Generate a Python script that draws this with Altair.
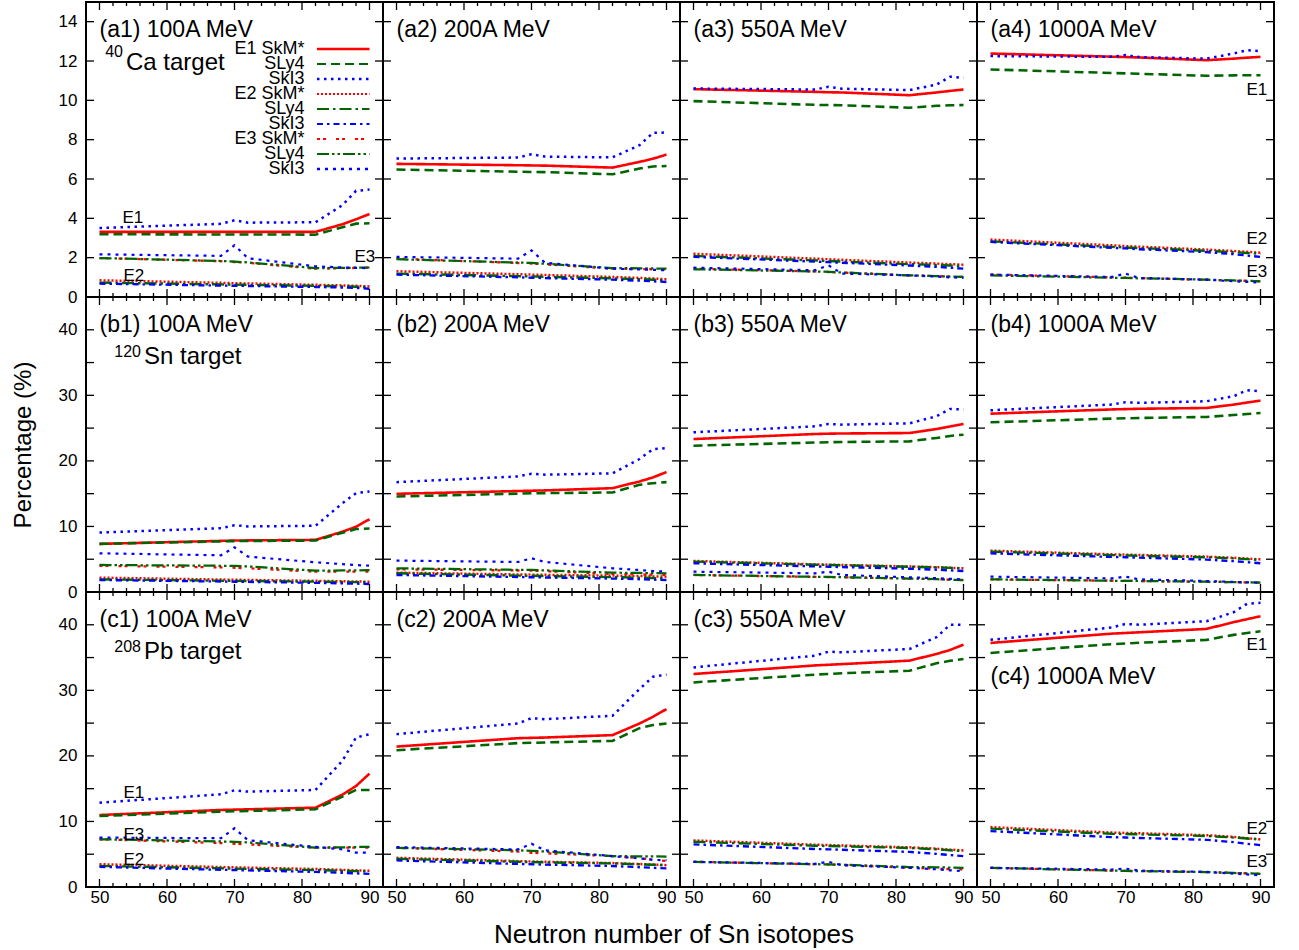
import altair as alt
import pandas as pd

FONT = "Liberation Sans"

# Neutron numbers at which the percentages are tabulated
N = [50, 68, 70, 72, 82, 86, 88, 90]

SERIES = ["E1 SkM*", "E1 SLy4", "E1 SkI3",
          "E2 SkM*", "E2 SLy4", "E2 SkI3",
          "E3 SkM*", "E3 SLy4", "E3 SkI3"]
LEGEND_TEXT = ["E1 SkM*", "SLy4", "SkI3", "E2 SkM*", "SLy4", "SkI3", "E3 SkM*", "SLy4", "SkI3"]

COLORS = ["#ff0000", "#006400", "#0000ff"] * 3
DASHES = [[1, 0], [9, 5], [2.5, 4.5],
          [2, 2], [12, 4, 2.5, 4], [6, 4, 2.5, 4],
          [3, 3, 3, 10], [12, 3, 2.5, 3, 2.5, 3], [3, 5]]
WIDTHS = [2.6, 2.2, 2.4, 2, 2, 2, 2, 2, 2.4]

# ---- 40Ca target ----
a1 = {
    "E1 SkM*": [3.31, 3.31, 3.31, 3.31, 3.31, 3.70, 3.95, 4.22],
    "E1 SLy4": [3.19, 3.18, 3.18, 3.18, 3.17, 3.55, 3.73, 3.75],
    "E1 SkI3": [3.51, 3.72, 3.90, 3.78, 3.80, 4.67, 5.40, 5.46],
    "E2 SkM*": [0.85, 0.72, 0.70, 0.69, 0.62, 0.59, 0.57, 0.54],
    "E2 SLy4": [0.73, 0.64, 0.63, 0.62, 0.57, 0.54, 0.52, 0.51],
    "E2 SkI3": [0.68, 0.58, 0.57, 0.56, 0.51, 0.48, 0.46, 0.42],
    "E3 SkM*": [1.98, 1.82, 1.78, 1.74, 1.44, 1.46, 1.48, 1.49],
    "E3 SLy4": [1.98, 1.83, 1.80, 1.76, 1.47, 1.48, 1.49, 1.50],
    "E3 SkI3": [2.17, 2.09, 2.63, 1.97, 1.56, 1.50, 1.48, 1.47],
}
a2 = {
    "E1 SkM*": [6.77, 6.70, 6.69, 6.68, 6.58, 6.87, 7.03, 7.24],
    "E1 SLy4": [6.48, 6.37, 6.36, 6.35, 6.24, 6.53, 6.64, 6.66],
    "E1 SkI3": [7.04, 7.09, 7.26, 7.14, 7.10, 7.72, 8.35, 8.36],
    "E2 SkM*": [1.31, 1.16, 1.14, 1.12, 1.02, 0.97, 0.94, 0.90],
    "E2 SLy4": [1.19, 1.06, 1.05, 1.03, 0.95, 0.91, 0.88, 0.85],
    "E2 SkI3": [1.14, 1.00, 0.98, 0.96, 0.88, 0.83, 0.80, 0.76],
    "E3 SkM*": [1.95, 1.73, 1.70, 1.66, 1.44, 1.42, 1.41, 1.40],
    "E3 SLy4": [1.92, 1.75, 1.73, 1.69, 1.47, 1.46, 1.45, 1.44],
    "E3 SkI3": [2.04, 1.95, 2.37, 1.74, 1.44, 1.40, 1.38, 1.36],
}
a3 = {
    "E1 SkM*": [10.57, 10.43, 10.41, 10.40, 10.26, 10.40, 10.48, 10.55],
    "E1 SLy4": [9.96, 9.77, 9.76, 9.75, 9.62, 9.72, 9.75, 9.76],
    "E1 SkI3": [10.60, 10.55, 10.69, 10.59, 10.52, 10.80, 11.20, 11.15],
    "E2 SkM*": [2.20, 1.95, 1.92, 1.89, 1.75, 1.70, 1.67, 1.64],
    "E2 SLy4": [2.09, 1.86, 1.83, 1.80, 1.67, 1.63, 1.60, 1.58],
    "E2 SkI3": [2.04, 1.80, 1.77, 1.74, 1.60, 1.53, 1.49, 1.44],
    "E3 SkM*": [1.44, 1.30, 1.27, 1.24, 1.10, 1.06, 1.04, 1.02],
    "E3 SLy4": [1.41, 1.30, 1.28, 1.25, 1.10, 1.06, 1.04, 1.02],
    "E3 SkI3": [1.49, 1.36, 1.61, 1.19, 1.10, 1.04, 1.00, 0.97],
}
a4 = {
    "E1 SkM*": [12.38, 12.22, 12.20, 12.18, 12.04, 12.12, 12.17, 12.21],
    "E1 SLy4": [11.57, 11.39, 11.37, 11.35, 11.25, 11.27, 11.28, 11.28],
    "E1 SkI3": [12.25, 12.21, 12.30, 12.20, 12.12, 12.38, 12.55, 12.50],
    "E2 SkM*": [2.92, 2.63, 2.59, 2.56, 2.41, 2.34, 2.30, 2.25],
    "E2 SLy4": [2.83, 2.55, 2.52, 2.49, 2.35, 2.28, 2.24, 2.20],
    "E2 SkI3": [2.80, 2.50, 2.47, 2.43, 2.28, 2.18, 2.11, 2.04],
    "E3 SkM*": [1.14, 1.00, 0.98, 0.96, 0.88, 0.84, 0.82, 0.80],
    "E3 SLy4": [1.10, 0.98, 0.97, 0.95, 0.88, 0.84, 0.82, 0.80],
    "E3 SkI3": [1.14, 1.02, 1.19, 0.97, 0.88, 0.80, 0.77, 0.73],
}

# ---- 120Sn target ----
b1 = {
    "E1 SkM*": [7.34, 7.80, 7.85, 7.87, 7.95, 9.20, 9.95, 11.10],
    "E1 SLy4": [7.34, 7.72, 7.76, 7.78, 7.85, 9.05, 9.60, 9.70],
    "E1 SkI3": [9.07, 9.73, 10.19, 10.00, 10.10, 13.55, 15.08, 15.33],
    "E2 SkM*": [2.19, 1.90, 1.87, 1.84, 1.71, 1.64, 1.60, 1.57],
    "E2 SLy4": [1.93, 1.72, 1.70, 1.68, 1.58, 1.52, 1.50, 1.47],
    "E2 SkI3": [1.83, 1.60, 1.57, 1.54, 1.40, 1.32, 1.27, 1.22],
    "E3 SkM*": [4.00, 3.75, 3.70, 3.62, 3.10, 3.10, 3.10, 3.10],
    "E3 SLy4": [4.12, 4.00, 3.97, 3.90, 3.26, 3.28, 3.30, 3.33],
    "E3 SkI3": [5.90, 5.60, 6.82, 5.40, 4.53, 4.25, 4.10, 4.02],
}
b2 = {
    "E1 SkM*": [14.98, 15.40, 15.45, 15.50, 15.84, 16.86, 17.48, 18.30],
    "E1 SLy4": [14.57, 15.00, 15.05, 15.08, 15.18, 16.36, 16.60, 16.76],
    "E1 SkI3": [16.76, 17.63, 18.04, 17.89, 18.10, 20.28, 21.80, 21.95],
    "E2 SkM*": [2.95, 2.68, 2.65, 2.62, 2.50, 2.43, 2.38, 2.34],
    "E2 SLy4": [2.85, 2.50, 2.47, 2.43, 2.27, 2.18, 2.13, 2.08],
    "E2 SkI3": [2.60, 2.28, 2.25, 2.21, 2.05, 1.95, 1.89, 1.83],
    "E3 SkM*": [3.46, 3.28, 3.26, 3.18, 2.75, 2.68, 2.64, 2.60],
    "E3 SLy4": [3.61, 3.38, 3.36, 3.30, 2.95, 2.90, 2.88, 2.85],
    "E3 SkI3": [4.79, 4.58, 5.14, 4.58, 3.61, 3.35, 3.20, 3.10],
}
b3 = {
    "E1 SkM*": [23.33, 24.10, 24.15, 24.18, 24.25, 24.86, 25.25, 25.63],
    "E1 SLy4": [22.32, 22.80, 22.85, 22.88, 22.98, 23.50, 23.80, 24.00],
    "E1 SkI3": [24.36, 25.27, 25.63, 25.53, 25.73, 26.80, 27.93, 27.83],
    "E2 SkM*": [4.74, 4.22, 4.17, 4.12, 3.90, 3.78, 3.70, 3.61],
    "E2 SLy4": [4.64, 4.16, 4.12, 4.07, 3.85, 3.76, 3.68, 3.61],
    "E2 SkI3": [4.38, 3.90, 3.85, 3.80, 3.55, 3.40, 3.30, 3.20],
    "E3 SkM*": [2.60, 2.30, 2.27, 2.24, 2.05, 1.95, 1.88, 1.83],
    "E3 SLy4": [2.60, 2.32, 2.29, 2.26, 2.05, 1.95, 1.88, 1.83],
    "E3 SkI3": [3.10, 2.85, 3.10, 2.60, 2.24, 2.10, 2.00, 1.93],
}
b4 = {
    "E1 SkM*": [27.20, 27.85, 27.90, 27.95, 28.07, 28.58, 28.90, 29.20],
    "E1 SLy4": [25.89, 26.45, 26.50, 26.55, 26.70, 27.00, 27.15, 27.30],
    "E1 SkI3": [27.72, 28.60, 28.95, 28.85, 29.10, 29.86, 30.78, 30.60],
    "E2 SkM*": [6.31, 5.75, 5.70, 5.65, 5.40, 5.22, 5.10, 4.98],
    "E2 SLy4": [6.16, 5.63, 5.58, 5.53, 5.30, 5.13, 5.01, 4.89],
    "E2 SkI3": [5.90, 5.35, 5.30, 5.24, 4.95, 4.70, 4.55, 4.38],
    "E3 SkM*": [1.93, 1.72, 1.70, 1.68, 1.57, 1.50, 1.46, 1.42],
    "E3 SLy4": [1.93, 1.72, 1.70, 1.68, 1.57, 1.50, 1.46, 1.42],
    "E3 SkI3": [2.34, 2.08, 2.34, 1.93, 1.68, 1.55, 1.48, 1.42],
}

# ---- 208Pb target ----
c1 = {
    "E1 SkM*": [10.98, 11.75, 11.80, 11.85, 12.10, 14.10, 15.40, 17.30],
    "E1 SLy4": [10.83, 11.50, 11.55, 11.60, 11.85, 13.80, 14.80, 14.80],
    "E1 SkI3": [12.86, 14.14, 14.75, 14.55, 14.80, 19.27, 22.80, 23.30],
    "E2 SkM*": [3.48, 3.05, 3.00, 2.95, 2.75, 2.62, 2.55, 2.47],
    "E2 SLy4": [3.22, 2.85, 2.80, 2.76, 2.58, 2.48, 2.42, 2.37],
    "E2 SkI3": [3.07, 2.62, 2.58, 2.53, 2.30, 2.17, 2.08, 2.00],
    "E3 SkM*": [7.28, 6.70, 6.60, 6.50, 6.00, 6.00, 6.00, 6.00],
    "E3 SLy4": [7.28, 6.95, 6.90, 6.80, 6.00, 6.05, 6.10, 6.12],
    "E3 SkI3": [7.54, 7.44, 8.96, 7.13, 6.12, 5.75, 5.24, 5.24],
}
c2 = {
    "E1 SkM*": [21.42, 22.70, 22.75, 22.80, 23.17, 24.94, 25.96, 27.14],
    "E1 SLy4": [20.87, 21.95, 22.00, 22.05, 22.29, 24.23, 24.70, 24.94],
    "E1 SkI3": [23.32, 24.94, 25.76, 25.60, 26.12, 30.20, 32.08, 32.40],
    "E2 SkM*": [4.45, 3.95, 3.90, 3.85, 3.65, 3.50, 3.42, 3.33],
    "E2 SLy4": [4.30, 3.85, 3.80, 3.76, 3.60, 3.46, 3.40, 3.33],
    "E2 SkI3": [4.05, 3.52, 3.47, 3.42, 3.20, 3.02, 2.93, 2.83],
    "E3 SkM*": [5.98, 5.40, 5.22, 5.15, 4.71, 4.40, 4.15, 3.95],
    "E3 SLy4": [5.98, 5.60, 5.50, 5.42, 4.71, 4.68, 4.66, 4.64],
    "E3 SkI3": [6.08, 5.73, 6.59, 5.60, 4.71, 4.35, 4.15, 4.05],
}
c3 = {
    "E1 SkM*": [32.49, 33.80, 33.90, 34.00, 34.53, 35.55, 36.15, 36.97],
    "E1 SLy4": [31.21, 32.40, 32.50, 32.60, 33.00, 34.13, 34.50, 34.78],
    "E1 SkI3": [33.50, 35.29, 35.90, 35.80, 36.31, 38.10, 40.00, 40.00],
    "E2 SkM*": [7.11, 6.45, 6.40, 6.33, 6.05, 5.85, 5.70, 5.58],
    "E2 SLy4": [6.90, 6.30, 6.25, 6.20, 5.95, 5.75, 5.60, 5.48],
    "E2 SkI3": [6.50, 5.80, 5.75, 5.68, 5.35, 5.05, 4.88, 4.71],
    "E3 SkM*": [3.84, 3.48, 3.43, 3.38, 2.92, 2.80, 2.73, 2.67],
    "E3 SLy4": [3.84, 3.48, 3.45, 3.40, 3.05, 3.00, 2.96, 2.92],
    "E3 SkI3": [3.84, 3.53, 3.84, 3.33, 2.92, 2.70, 2.55, 2.41],
}
c4 = {
    "E1 SkM*": [37.23, 38.65, 38.75, 38.85, 39.37, 40.39, 40.85, 41.30],
    "E1 SLy4": [35.70, 37.05, 37.15, 37.25, 37.70, 38.46, 38.75, 39.00],
    "E1 SkI3": [37.70, 39.60, 40.13, 40.00, 40.54, 41.91, 43.20, 43.35],
    "E2 SkM*": [9.14, 8.30, 8.25, 8.20, 7.90, 7.65, 7.45, 7.26],
    "E2 SLy4": [8.90, 8.12, 8.08, 8.03, 7.78, 7.55, 7.40, 7.26],
    "E2 SkI3": [8.53, 7.60, 7.55, 7.48, 7.20, 6.85, 6.60, 6.39],
    "E3 SkM*": [2.92, 2.50, 2.46, 2.42, 2.28, 2.15, 2.08, 2.00],
    "E3 SLy4": [2.92, 2.50, 2.46, 2.42, 2.28, 2.15, 2.08, 2.00],
    "E3 SkI3": [2.92, 2.67, 2.80, 2.50, 2.30, 2.05, 1.92, 1.79],
}

# Axis ranges and tick positions
X_DOMAIN = [48, 92]
X_LABELS = [50, 60, 70, 80, 90]
X_MINOR = [52, 54, 56, 58, 62, 64, 66, 68, 72, 74, 76, 78, 82, 84, 86, 88]
Y_MAX_CA = 15
Y_MAX_HEAVY = 45
Y_TICKS_CA = [2, 4, 6, 8, 10, 12, 14]
Y_LABELS_CA = [0, 2, 4, 6, 8, 10, 12, 14]
Y_TICKS_HEAVY = [5, 10, 15, 20, 25, 30, 35, 40]
Y_LABELS_HEAVY = [0, 10, 20, 30, 40]

W, H = 297, 295
TICK = 8
MINOR = 4
TITLE_SIZE = 23
TARGET_SIZE = 24
SUP_SIZE = 16


def text(t, x, y, size=17, align="left", baseline="middle"):
    return alt.Chart(pd.DataFrame({"t": [t]})).mark_text(
        align=align, baseline=baseline, fontSize=size, font=FONT, color="black"
    ).encode(text="t:N", x=alt.value(x), y=alt.value(y))


def panel(values, ymax, yticks, ylabels, col, row, annotations):
    xs = alt.Scale(domain=X_DOMAIN, nice=False, zero=False)
    ys = alt.Scale(domain=[0, ymax], nice=False)

    if col == 0:
        yaxis_kw = dict(values=ylabels, format="d", labelFontSize=17, labelPadding=9,
                        ticks=False, domain=False, grid=False, title="")
        if row == 1:
            yaxis_kw.update(title="Percentage (%)", titleFontSize=24, titleX=-63,
                            titleY=H / 2, titleAngle=270, titleBaseline="middle",
                            titleAlign="center", titleFontWeight="normal")
        yaxis = alt.Axis(**yaxis_kw)
    else:
        yaxis = None

    if row == 2:
        xaxis_kw = dict(values=X_LABELS, format="d", labelFontSize=17, labelPadding=2,
                        ticks=False, domain=False, grid=False, title="")
        if col == 1:
            xaxis_kw.update(title="Neutron number of Sn isotopes", titleFontSize=26,
                            titleX=290.5, titleY=47, titleBaseline="middle",
                            titleAlign="center", titleFontWeight="normal")
        xaxis = alt.Axis(**xaxis_kw)
    else:
        xaxis = None

    df = pd.DataFrame(
        [{"N": n, "pct": v, "series": s} for s in SERIES for n, v in zip(N, values[s])]
    )
    lines = alt.Chart(df).mark_line(clip=True).encode(
        x=alt.X("N:Q", scale=xs, axis=xaxis),
        y=alt.Y("pct:Q", scale=ys, axis=yaxis),
        color=alt.Color("series:N", scale=alt.Scale(domain=SERIES, range=COLORS), legend=None),
        strokeDash=alt.StrokeDash("series:N", scale=alt.Scale(domain=SERIES, range=DASHES), legend=None),
        size=alt.Size("series:N", scale=alt.Scale(domain=SERIES, range=WIDTHS), legend=None),
        order=alt.Order("N:Q"),
    )

    # inward ticks on all four sides (same scales and axes as the curves)
    ydf = pd.DataFrame({"v": yticks})
    xdf = pd.DataFrame({"v": X_LABELS})
    xmdf = pd.DataFrame({"v": X_MINOR})
    yq = alt.Y("v:Q", scale=ys, axis=yaxis)
    xq = alt.X("v:Q", scale=xs, axis=xaxis)
    rule = dict(color="black", strokeWidth=1.3)
    ticks = [
        alt.Chart(ydf).mark_rule(**rule).encode(y=yq, x=alt.value(0), x2=alt.value(TICK)),
        alt.Chart(ydf).mark_rule(**rule).encode(y=yq, x=alt.value(W - TICK), x2=alt.value(W)),
        alt.Chart(xdf).mark_rule(**rule).encode(x=xq, y=alt.value(H), y2=alt.value(H - TICK)),
        alt.Chart(xdf).mark_rule(**rule).encode(x=xq, y=alt.value(0), y2=alt.value(TICK)),
        alt.Chart(xmdf).mark_rule(**rule).encode(x=xq, y=alt.value(H), y2=alt.value(H - MINOR)),
        alt.Chart(xmdf).mark_rule(**rule).encode(x=xq, y=alt.value(0), y2=alt.value(MINOR)),
    ]
    return alt.layer(lines, *ticks, *annotations).properties(width=W, height=H)


def legend_layers(x_text, x0, x1, y0, dy):
    out = []
    for i, s in enumerate(SERIES):
        yy = y0 + i * dy
        out.append(text(LEGEND_TEXT[i], x_text, yy, size=18, align="right"))
        out.append(
            alt.Chart(pd.DataFrame({"s": [s]})).mark_rule(
                color=COLORS[i], strokeDash=DASHES[i], strokeWidth=WIDTHS[i]
            ).encode(x=alt.value(x0), x2=alt.value(x1), y=alt.value(yy))
        )
    return out


def title(tag, energy, y=27.5):
    return text(f"({tag}) {energy}A MeV", 13.5, y, size=TITLE_SIZE)


def target(mass, name, x_sup_end, y_sup, y_main):
    return [
        text(mass, x_sup_end, y_sup, size=SUP_SIZE, align="right", baseline="alphabetic"),
        text(name, x_sup_end + 3, y_main, size=TARGET_SIZE, baseline="alphabetic"),
    ]


panels = [
    panel(a1, Y_MAX_CA, Y_TICKS_CA, Y_LABELS_CA, 0, 0, [
        title("a1", 100),
        *target("40", "Ca target", 37, 55, 68),
        *legend_layers(218.5, 231, 283.5, 47, 15),
        text("E1", 36.5, 216), text("E3", 268.5, 255), text("E2", 37.5, 274),
    ]),
    panel(a2, Y_MAX_CA, Y_TICKS_CA, Y_LABELS_CA, 1, 0, [title("a2", 200)]),
    panel(a3, Y_MAX_CA, Y_TICKS_CA, Y_LABELS_CA, 2, 0, [title("a3", 550)]),
    panel(a4, Y_MAX_CA, Y_TICKS_CA, Y_LABELS_CA, 3, 0, [
        title("a4", 1000),
        text("E1", 269.5, 88), text("E2", 269.5, 237), text("E3", 269.5, 270),
    ]),
    panel(b1, Y_MAX_HEAVY, Y_TICKS_HEAVY, Y_LABELS_HEAVY, 0, 1, [
        title("b1", 100),
        *target("120", "Sn target", 55, 60, 67),
    ]),
    panel(b2, Y_MAX_HEAVY, Y_TICKS_HEAVY, Y_LABELS_HEAVY, 1, 1, [title("b2", 200)]),
    panel(b3, Y_MAX_HEAVY, Y_TICKS_HEAVY, Y_LABELS_HEAVY, 2, 1, [title("b3", 550)]),
    panel(b4, Y_MAX_HEAVY, Y_TICKS_HEAVY, Y_LABELS_HEAVY, 3, 1, [title("b4", 1000)]),
    panel(c1, Y_MAX_HEAVY, Y_TICKS_HEAVY, Y_LABELS_HEAVY, 0, 2, [
        title("c1", 100),
        *target("208", "Pb target", 55, 60, 67),
        text("E1", 37.5, 200.5), text("E3", 37.5, 242.5), text("E2", 37.5, 268),
    ]),
    panel(c2, Y_MAX_HEAVY, Y_TICKS_HEAVY, Y_LABELS_HEAVY, 1, 2, [title("c2", 200)]),
    panel(c3, Y_MAX_HEAVY, Y_TICKS_HEAVY, Y_LABELS_HEAVY, 2, 2, [title("c3", 550)]),
    panel(c4, Y_MAX_HEAVY, Y_TICKS_HEAVY, Y_LABELS_HEAVY, 3, 2, [
        title("c4", 1000, y=85),
        text("E1", 269.5, 53), text("E2", 269.5, 237), text("E3", 269.5, 270),
    ]),
]

chart = alt.concat(*panels, columns=4, spacing=0, bounds="flush").properties(
    autosize=alt.AutoSizeParams(type="pad"),
    padding={"left": 10, "top": 0, "right": 10, "bottom": 10},
).configure_view(
    stroke="black", strokeWidth=2
).configure_axis(
    labelFont=FONT, titleFont=FONT, labelColor="black", titleColor="black"
)

chart.save("out.html", embed_options={"renderer": "svg", "actions": False})
